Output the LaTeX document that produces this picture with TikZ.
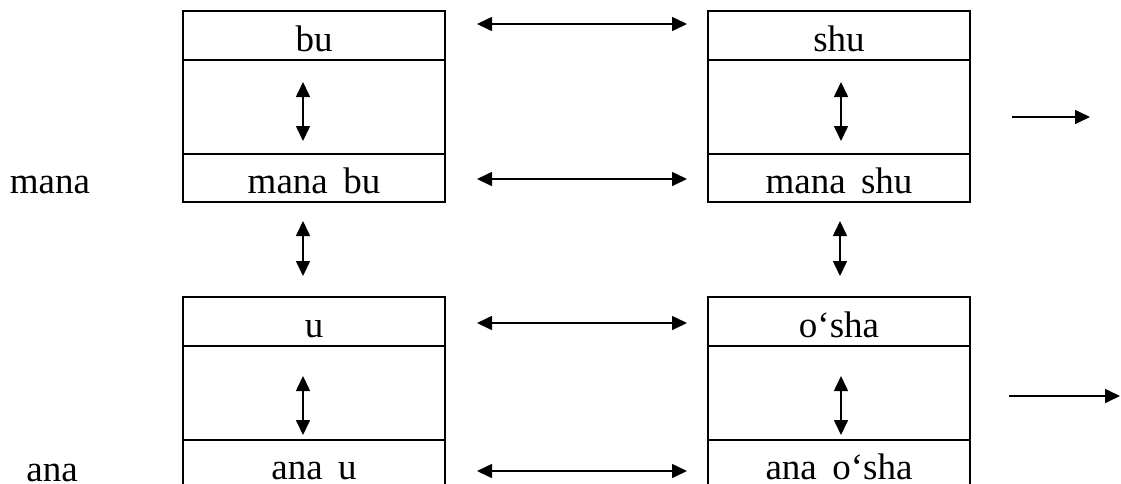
\documentclass[tikz,border=0pt]{standalone}
\usepackage{fontspec}
\setmainfont{Liberation Serif}
\usetikzlibrary{arrows.meta}
\tikzset{
  cell/.style={draw, line width=2pt, minimum width=262pt, inner sep=0pt, anchor=center, text height=31pt, text depth=0pt},
  hrow/.style={cell, minimum height=49pt},
  mrow/.style={cell, minimum height=94pt},
  brow/.style={cell, minimum height=48pt},
  arr/.style={line width=1.6pt, {Triangle[length=15pt,width=14pt]}-{Triangle[length=15pt,width=14pt]}},
  rarr/.style={line width=1.6pt, -{Triangle[length=15pt,width=14pt]}},
  lbl/.style={inner sep=0pt, text height=31pt, text depth=0pt}
}
\begin{document}
\begin{tikzpicture}[x=1pt,y=-1pt,font=\fontsize{37}{42}\selectfont]
\useasboundingbox (0,0) rectangle (1121,483);
% upper left box
\node[hrow] (bu) at (314,35.5) {bu};
\node[mrow] (bum) at (314,107) {};
\node[brow] (manabu) at (314,178) {mana\ \,bu};
% upper right box
\node[hrow] (shu) at (839,35.5) {shu};
\node[mrow] (shum) at (839,107) {};
\node[brow] (manashu) at (839,178) {mana\ \,shu};
% lower left box
\node[hrow] (u) at (314,321.5) {u};
\node[mrow] (um) at (314,393) {};
\node[brow] (anau) at (314,464) {ana\ \,u};
% lower right box
\node[hrow] (osha) at (839,321.5) {o‘sha};
\node[mrow] (osham) at (839,393) {};
\node[brow] (anaosha) at (839,464) {ana\ \,o‘sha};
% side labels
\node[lbl] (mana) at (50,178) {mana};
\node[lbl] (ana) at (52,466) {ana};
% horizontal arrows between boxes
\draw[arr] ([xshift=31pt,yshift=11.5pt]bu.east) -- ([xshift=-20pt,yshift=11.5pt]shu.west);
\draw[arr] ([xshift=31pt,yshift=-1pt]manabu.east) -- ([xshift=-20pt,yshift=-1pt]manashu.west);
\draw[arr] ([xshift=31pt,yshift=-1.5pt]u.east) -- ([xshift=-20pt,yshift=-1.5pt]osha.west);
\draw[arr] ([xshift=31pt,yshift=-7pt]anau.east) -- ([xshift=-20pt,yshift=-7pt]anaosha.west);
% vertical arrows inside boxes
\draw[arr] ([yshift=-23pt]bum.north -| 303,0) -- ([yshift=14pt]bum.south -| 303,0);
\draw[arr] ([yshift=-23pt]shum.north -| 841,0) -- ([yshift=14pt]shum.south -| 841,0);
\draw[arr] ([yshift=-31pt]um.north -| 303,0) -- ([yshift=6pt]um.south -| 303,0);
\draw[arr] ([yshift=-31pt]osham.north -| 841,0) -- ([yshift=6pt]osham.south -| 841,0);
% vertical arrows between boxes
\draw[arr] ([yshift=-18pt]manabu.south -| 303,0) -- ([yshift=20pt]u.north -| 303,0);
\draw[arr] ([yshift=-18pt]manashu.south -| 840,0) -- ([yshift=20pt]osha.north -| 840,0);
% right arrows
\coordinate (r1s) at (1012,117);
\coordinate (r1e) at (1090,117);
\coordinate (r2s) at (1009,396);
\coordinate (r2e) at (1120,396);
\draw[rarr] (r1s) -- (r1e);
\draw[rarr] (r2s) -- (r2e);
\end{tikzpicture}
\end{document}
